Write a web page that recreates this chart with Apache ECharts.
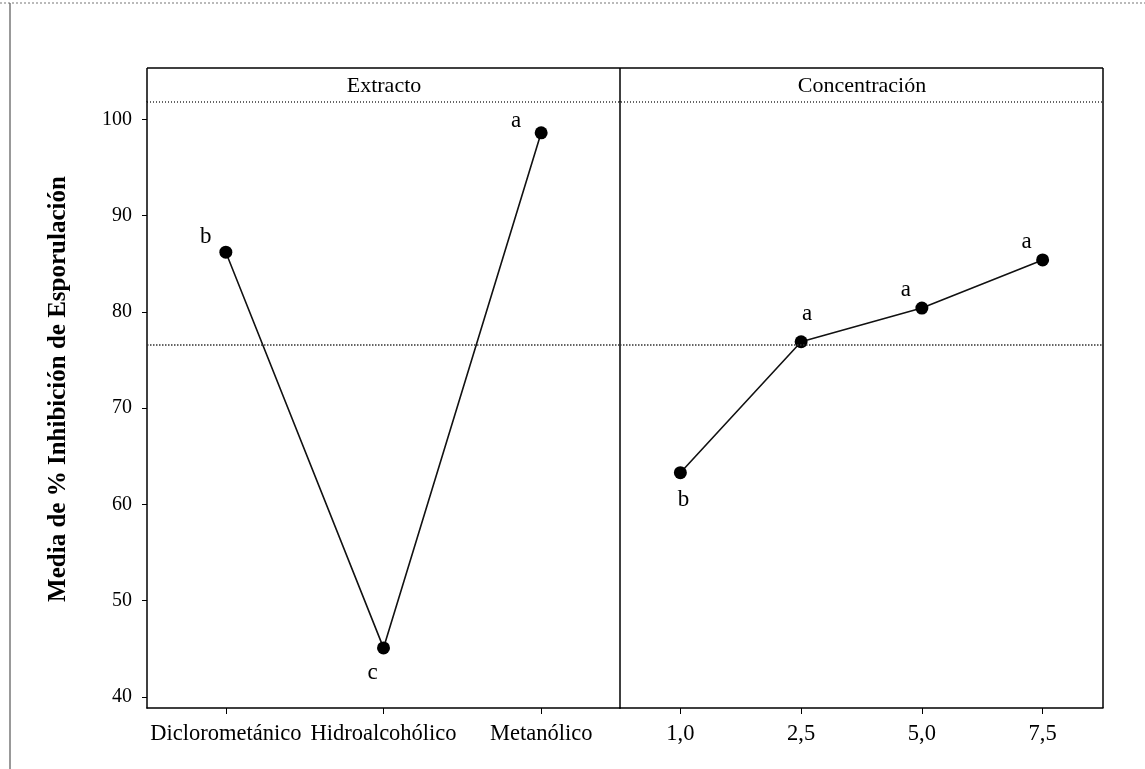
<!DOCTYPE html>
<html>
<head>
<meta charset="utf-8">
<script src="https://cdn.jsdelivr.net/npm/echarts@6/dist/echarts.min.js"></script>
<style>
  html, body { margin: 0; padding: 0; background: #fff; }
  #chart { width: 1145px; height: 769px; }
</style>
</head>
<body>
<div id="chart"></div>
<script>
// data
var panelTitles = ['Extracto', 'Concentración'];
var yTitle = 'Media de % Inhibición de Esporulación';
var extractCats = ['Diclorometánico', 'Hidroalcohólico', 'Metanólico'];
var extractMeans = [86.2, 45.1, 98.6];
var extractGroups = ['b', 'c', 'a'];
var concCats = ['1,0', '2,5', '5,0', '7,5'];
var concMeans = [63.3, 76.9, 80.4, 85.4];
var concGroups = ['b', 'a', 'a', 'a'];
var grandMean = 76.6;
var yTicks = [40, 50, 60, 70, 80, 90, 100];
var yMin = 38.86, yMax = 101.8;

var font = 'Liberation Serif';

// where each letter sits around its point
var extractOffsets = [[-20, -15], [-11, 25], [-25, -12]];
var concOffsets = [[3, 27], [6, -28], [-16, -18], [-16, -18]];

function points(values, groups, offsets) {
    return values.map(function (v, i) {
        return {
            value: v,
            label: { formatter: groups[i], offset: offsets[i] }
        };
    });
}

function yAxisFor(idx, showLabels) {
    return {
        type: 'value',
        gridIndex: idx,
        min: yMin,
        max: yMax,
        splitLine: { show: false },
        axisLine: { show: true, lineStyle: { color: '#000', width: 1.5 } },
        axisTick: { show: showLabels, length: 5, inside: false, customValues: yTicks, lineStyle: { color: '#000' } },
        axisLabel: { show: showLabels, customValues: yTicks, fontFamily: font, fontSize: 20, color: '#000', margin: 15 }
    };
}

function xAxisFor(idx, cats) {
    return {
        type: 'category',
        gridIndex: idx,
        data: cats,
        boundaryGap: true,
        axisLine: { show: true, lineStyle: { color: '#000', width: 1.5 } },
        axisTick: { show: true, alignWithLabel: true, length: 6, lineStyle: { color: '#000' } },
        axisLabel: { fontFamily: font, fontSize: 22.5, color: '#000', margin: 15, interval: 0 }
    };
}

function lineSeries(idx, data) {
    return {
        type: 'line',
        xAxisIndex: idx,
        yAxisIndex: idx,
        data: data,
        symbol: 'circle',
        symbolSize: 13,
        itemStyle: { color: '#000' },
        lineStyle: { color: '#111', width: 1.6 },
        label: {
            show: true,
            position: 'inside',
            fontFamily: font,
            fontSize: 23,
            color: '#000'
        },
        markLine: {
            silent: true,
            symbol: 'none',
            label: { show: false },
            lineStyle: { type: 'dotted', color: '#333', width: 1.5 },
            data: [{ yAxis: grandMean }]
        },
        z: 3
    };
}

var chart = echarts.init(document.getElementById('chart'), null, { renderer: 'canvas' });

var frame = { stroke: '#000', lineWidth: 1.5 };
var option = {
    animation: false,
    backgroundColor: '#fff',
    grid: [
        { left: 147, right: 525, top: 102, bottom: 61 },
        { left: 620, right: 42, top: 102, bottom: 61 }
    ],
    xAxis: [xAxisFor(0, extractCats), xAxisFor(1, concCats)],
    yAxis: [yAxisFor(0, true), yAxisFor(1, false)],
    series: [
        lineSeries(0, points(extractMeans, extractGroups, extractOffsets)),
        lineSeries(1, points(concMeans, concGroups, concOffsets))
    ],
    graphic: [
        // scan border
        { type: 'line', shape: { x1: 0, y1: 3, x2: 1145, y2: 3 }, style: { stroke: '#777', lineWidth: 1, lineDash: [2, 2] } },
        { type: 'line', shape: { x1: 10, y1: 3, x2: 10, y2: 769 }, style: { stroke: '#555', lineWidth: 1.2 } },
        // panel header strip
        { type: 'line', shape: { x1: 147, y1: 68, x2: 1103, y2: 68 }, style: frame },
        { type: 'line', shape: { x1: 147, y1: 68, x2: 147, y2: 102 }, style: frame },
        { type: 'line', shape: { x1: 620, y1: 68, x2: 620, y2: 102 }, style: frame },
        { type: 'line', shape: { x1: 1103, y1: 68, x2: 1103, y2: 708 }, style: frame },
        { type: 'line', shape: { x1: 147, y1: 102, x2: 1103, y2: 102 }, style: { stroke: '#333', lineWidth: 1.5, lineDash: [1, 2] } },
        {
            type: 'text', x: 384, y: 86, style: {
                text: panelTitles[0], textAlign: 'center', textVerticalAlign: 'middle',
                font: '22px "Liberation Serif"', fill: '#000'
            }
        },
        {
            type: 'text', x: 862, y: 86, style: {
                text: panelTitles[1], textAlign: 'center', textVerticalAlign: 'middle',
                font: '22px "Liberation Serif"', fill: '#000'
            }
        },
        {
            type: 'text', x: 59, y: 389, rotation: Math.PI / 2, style: {
                text: yTitle, textAlign: 'center', textVerticalAlign: 'middle',
                font: 'bold 25px "Liberation Serif"', fill: '#000'
            }
        }
    ]
};

chart.setOption(option);
</script>
</body>
</html>
